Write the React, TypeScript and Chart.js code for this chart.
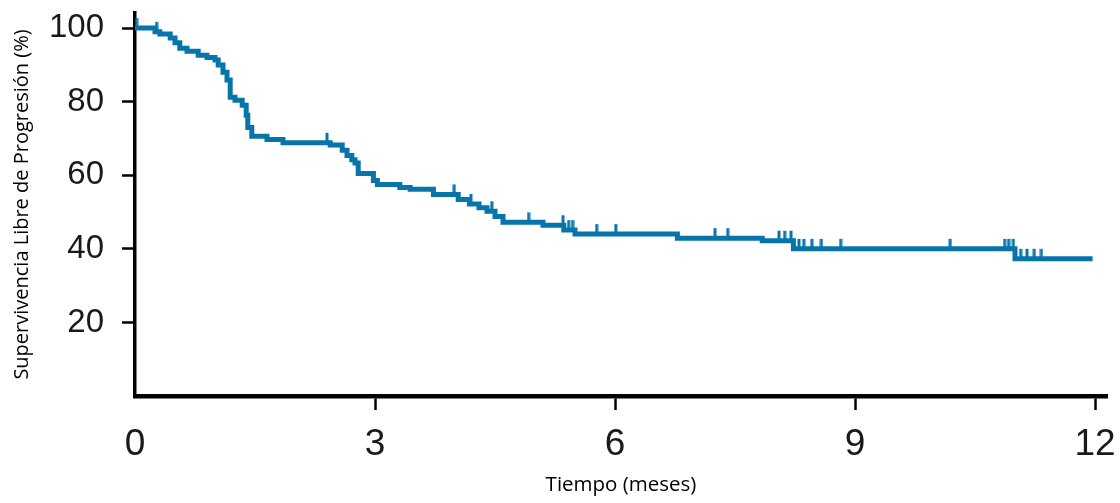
import { useEffect, useRef } from 'react';
import { Chart, registerables } from 'chart.js';

Chart.register(...registerables);

// Kaplan-Meier step curve: time (months) at which survival drops to the value
const stepTimes = [0, 0.25, 0.31, 0.44, 0.5, 0.56, 0.65, 0.79, 0.9, 1.0, 1.04, 1.1, 1.15, 1.19, 1.25, 1.34, 1.39, 1.41, 1.46, 1.65, 1.85, 2.44, 2.59, 2.65, 2.71, 2.75, 2.79, 2.98, 3.03, 3.31, 3.44, 3.73, 4.04, 4.18, 4.3, 4.4, 4.5, 4.6, 5.1, 5.36, 5.5, 6.78, 7.84, 8.23, 11.0, 11.97];
const stepValues = [100, 99, 98.4, 97.3, 96, 94.5, 93.7, 92.6, 92, 91.3, 90, 88, 85.9, 81.2, 80.4, 79, 76.3, 73, 70.6, 69.7, 68.8, 68.2, 66.8, 65.4, 64.2, 63.3, 60.5, 58.6, 57.5, 56.7, 56.2, 54.8, 53.4, 52.2, 51.2, 50.2, 48.8, 47.2, 46.4, 45.1, 44.0, 42.9, 42.2, 40.0, 37.3, 37.3];

// Censored observations
const censorTimes = [0.02, 0.27, 2.4, 3.99, 4.2, 4.46, 4.92, 5.35, 5.42, 5.47, 5.77, 6.01, 7.25, 7.41, 8.05, 8.12, 8.2, 8.3, 8.36, 8.46, 8.58, 8.82, 10.19, 10.87, 10.92, 10.98, 11.07, 11.15, 11.24, 11.33];
const censorValues = [100, 99, 68.8, 54.8, 52.2, 50.2, 47.2, 46.4, 45.1, 45.1, 44.0, 44.0, 42.9, 42.9, 42.2, 42.2, 42.2, 40, 40, 40, 40, 40, 40, 40, 40, 40, 37.3, 37.3, 37.3, 37.3];

const xTickValues = [0, 3, 6, 9, 12];
const yTickValues = [20, 40, 60, 80, 100];
const xMax = 12.15;
const yMax = 104.1;

const xTitle = 'Tiempo (meses)';
const yTitle = 'Supervivencia Libre de Progresión (%)';

const LINE_COLOR = '#0775a9';

function makeCensorMark(): HTMLCanvasElement {
  const c = document.createElement('canvas');
  c.width = 4;
  c.height = 22;
  const g = c.getContext('2d');
  if (g) {
    g.fillStyle = LINE_COLOR;
    g.fillRect(0.5, 1, 3, 10.5);
  }
  return c;
}

export default function App() {
  const ref = useRef<HTMLCanvasElement | null>(null);

  useEffect(() => {
    if (!ref.current) return;
    const mark = makeCensorMark();
    const chart = new Chart(ref.current, {
      type: 'scatter',
      data: {
        datasets: [
          {
            label: 'km',
            data: stepTimes.map((t, i) => ({ x: t, y: stepValues[i] })),
            showLine: true,
            stepped: 'before',
            borderColor: LINE_COLOR,
            borderWidth: 5,
            pointRadius: 0,
            fill: false,
            borderCapStyle: 'butt',
            borderJoinStyle: 'miter',
          },
          {
            label: 'censor',
            data: censorTimes.map((t, i) => ({ x: t, y: censorValues[i] })),
            showLine: false,
            pointStyle: mark,
            pointRadius: 5,
          },
        ],
      },
      options: {
        animation: false,
        responsive: false,
        devicePixelRatio: 1,
        layout: { padding: { left: 0, top: 13, right: 13, bottom: 0 } },
        plugins: {
          legend: { display: false },
          tooltip: { enabled: false },
        },
        scales: {
          x: {
            type: 'linear',
            min: 0,
            max: xMax,
            afterBuildTicks: (s: any) => {
              s.ticks = xTickValues.map((v) => ({ value: v }));
            },
            afterFit: (s: any) => {
              s.height = 107;
              s.paddingLeft = 0;
              s.paddingRight = 0;
            },
            ticks: {
              color: '#1a1a1a',
              font: { family: "'Liberation Sans', Arial, sans-serif", size: 37 },
              padding: 13,
              maxRotation: 0,
              autoSkip: false,
            },
            grid: {
              display: true,
              drawOnChartArea: false,
              drawTicks: true,
              tickLength: 14,
              tickWidth: 2.5,
              tickColor: (ctx: any) => (ctx.tick && ctx.tick.value === 0 ? 'rgba(0,0,0,0)' : '#000'),
            },
            border: { display: true, color: '#000', width: 4.5 },
            title: {
              display: true,
              text: xTitle,
              color: '#000',
              font: { family: "'Open Sans', sans-serif", size: 20.5 },
              padding: { top: 0, bottom: 6 },
            },
          },
          y: {
            type: 'linear',
            min: 0,
            max: yMax,
            afterBuildTicks: (s: any) => {
              s.ticks = yTickValues.map((v) => ({ value: v }));
            },
            afterFit: (s: any) => {
              s.width = 135;
              s.paddingTop = 0;
              s.paddingBottom = 0;
            },
            ticks: {
              color: '#1a1a1a',
              font: { family: "'Liberation Sans', Arial, sans-serif", size: 33 },
              padding: 18,
              autoSkip: false,
            },
            grid: {
              display: true,
              drawOnChartArea: false,
              drawTicks: true,
              tickLength: 13,
              tickWidth: 2.5,
              tickColor: '#000',
            },
            border: { display: true, color: '#000', width: 3.5 },
            title: {
              display: true,
              text: yTitle,
              color: '#000',
              font: { family: "'Open Sans', sans-serif", size: 20 },
              padding: { top: 10, bottom: 0 },
            },
          },
        },
      },
    });
    return () => chart.destroy();
  }, []);

  return (
    <div style={{ position: 'fixed', left: 0, top: 0, width: 1120, height: 503, background: '#fff' }}>
      <canvas ref={ref} width={1120} height={503} style={{ display: 'block' }} />
    </div>
  );
}
